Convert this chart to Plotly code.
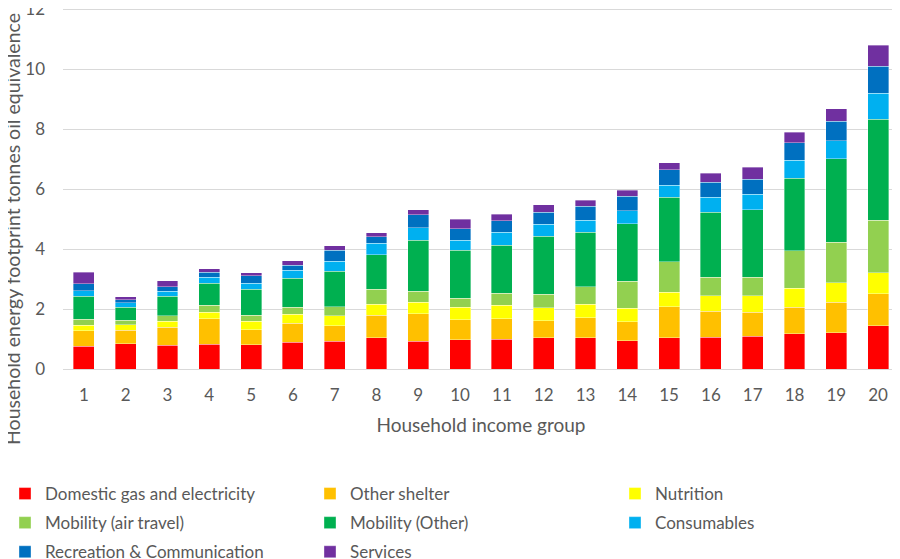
"""
Household energy footprint by income group
Stacked bar chart built with Plotly
"""
import plotly.graph_objects as go

# income groups (x axis categories)
groups = [str(i) for i in range(1, 21)]

# energy footprint per category, tonnes oil equivalence
domestic_gas_electricity = [0.76, 0.84, 0.80, 0.83, 0.81, 0.90, 0.93, 1.04, 0.93, 0.98,
                            0.99, 1.05, 1.04, 0.94, 1.05, 1.06, 1.09, 1.18, 1.21, 1.45]
other_shelter = [0.51, 0.45, 0.60, 0.84, 0.50, 0.62, 0.52, 0.76, 0.92, 0.66,
                 0.68, 0.56, 0.67, 0.64, 1.03, 0.86, 0.80, 0.88, 1.02, 1.06]
nutrition = [0.19, 0.18, 0.20, 0.22, 0.28, 0.30, 0.32, 0.36, 0.38, 0.42,
             0.45, 0.44, 0.45, 0.45, 0.48, 0.53, 0.55, 0.63, 0.65, 0.70]
mobility_air = [0.20, 0.15, 0.18, 0.23, 0.20, 0.24, 0.30, 0.50, 0.36, 0.31,
                0.41, 0.45, 0.59, 0.90, 1.02, 0.61, 0.62, 1.25, 1.35, 1.75]
mobility_other = [0.77, 0.44, 0.65, 0.74, 0.87, 0.97, 1.20, 1.16, 1.70, 1.59,
                  1.60, 1.93, 1.82, 1.92, 2.15, 2.17, 2.25, 2.43, 2.78, 3.38]
consumables = [0.18, 0.15, 0.17, 0.20, 0.21, 0.26, 0.33, 0.37, 0.42, 0.33,
               0.44, 0.41, 0.39, 0.43, 0.41, 0.51, 0.52, 0.59, 0.61, 0.87]
recreation_communication = [0.23, 0.11, 0.15, 0.17, 0.25, 0.18, 0.36, 0.23, 0.44, 0.39,
                            0.38, 0.39, 0.47, 0.49, 0.51, 0.49, 0.51, 0.59, 0.65, 0.90]
services = [0.39, 0.10, 0.19, 0.11, 0.10, 0.14, 0.15, 0.13, 0.17, 0.32,
            0.21, 0.25, 0.21, 0.19, 0.24, 0.30, 0.39, 0.36, 0.42, 0.70]

# (nombre, valores, color, columna de leyenda)
series = [
    ("Domestic gas and electricity", domestic_gas_electricity, "#FF0000", "legend"),
    ("Other shelter", other_shelter, "#FFC000", "legend2"),
    ("Nutrition", nutrition, "#FFFF00", "legend3"),
    ("Mobility (air travel)", mobility_air, "#92D050", "legend"),
    ("Mobility (Other)", mobility_other, "#00B050", "legend2"),
    ("Consumables", consumables, "#00B0F0", "legend3"),
    ("Recreation & Communication", recreation_communication, "#0070C0", "legend"),
    ("Services", services, "#7030A0", "legend2"),
]

FONT = "Lato"
GREY = "#595959"

# la pagina deja 8 px de margen: todo se mide en pixeles de pantalla
PAGE_OFFSET = 8
FIG_W = 900 - PAGE_OFFSET
FIG_H = 559 - PAGE_OFFSET
PLOT_LEFT = 63      # pantalla
PLOT_BOTTOM = 369   # pantalla
PLOT_W = 836
PLOT_H = PLOT_BOTTOM - PAGE_OFFSET


def px_x(screen_x):
    return (screen_x - PLOT_LEFT) / PLOT_W


def px_y(screen_y):
    return (PLOT_BOTTOM - screen_y) / PLOT_H


fig = go.Figure()

for name, values, color, leg in series:
    fig.add_trace(go.Bar(
        x=groups,
        y=values,
        name=name,
        marker_color=color,
        marker_line=dict(width=0.6, color="rgba(255,255,255,0.6)"),
        legend=leg,
        legendgroup=name
    ))

legend_style = dict(
    orientation="v",
    xanchor="left",
    yanchor="top",
    y=px_y(476),
    tracegroupgap=4,
    font=dict(family=FONT, size=17, color=GREY),
    bgcolor="rgba(0,0,0,0)"
)

fig.update_layout(
    barmode="stack",
    bargap=0.5,
    width=FIG_W,
    height=FIG_H,
    margin=dict(l=PLOT_LEFT - PAGE_OFFSET, r=FIG_W - (PLOT_LEFT - PAGE_OFFSET) - PLOT_W,
                t=0, b=FIG_H - PLOT_H, autoexpand=False),
    plot_bgcolor="white",
    paper_bgcolor="white",
    font=dict(family=FONT, color=GREY),
    legend=dict(legend_style, x=px_x(5)),
    legend2=dict(legend_style, x=px_x(310)),
    legend3=dict(legend_style, x=px_x(615)),
    xaxis=dict(
        title=dict(text="Household income group", font=dict(size=19, color=GREY), standoff=14),
        tickfont=dict(size=17, color=GREY),
        ticklabelstandoff=14,
        showgrid=False,
        showline=False,
        zeroline=False
    ),
    yaxis=dict(
        tickfont=dict(size=17, color=GREY),
        range=[0, 12.05],
        tickvals=[0, 2, 4, 6, 8, 10, 12],
        ticklabelstandoff=17,
        ticklabeloverflow="allow",
        gridcolor="#D9D9D9",
        gridwidth=1,
        zeroline=True,
        zerolinecolor="#D9D9D9",
        zerolinewidth=1,
        showline=False
    )
)

# titulo del eje Y como anotacion (no centrado en el eje en el original)
fig.add_annotation(
    text="Household energy footprint tonnes oil equivalence",
    xref="paper", yref="paper",
    x=px_x(13), y=px_y(229),
    xanchor="center", yanchor="middle",
    textangle=-90,
    showarrow=False,
    font=dict(family=FONT, size=19.5, color=GREY)
)

fig.write_html("out.html")
